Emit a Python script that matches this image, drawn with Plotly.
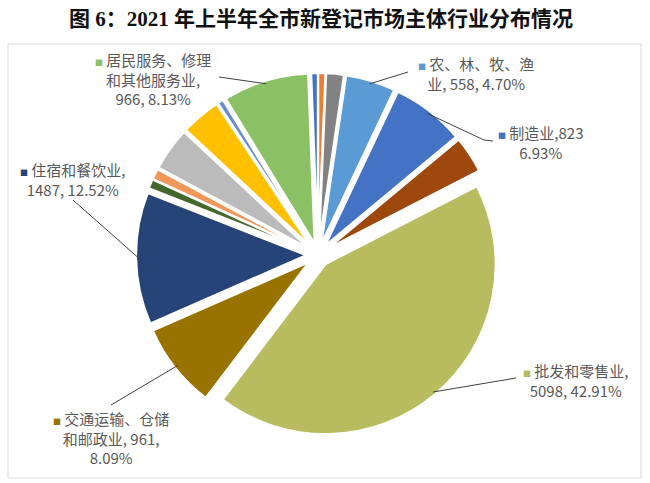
import math
import plotly.graph_objects as go

# ---------------- data ----------------
categories = [
    "教育", "卫生和社会工作", "文化、体育和娱乐业", "农、林、牧、渔业", "制造业", "建筑业",
    "批发和零售业", "交通运输、仓储和邮政业", "住宿和餐饮业", "信息传输、软件和信息技术服务业",
    "金融业", "租赁和商务服务业", "科学研究和技术服务业", "水利、环境和公共设施管理业",
    "居民服务、修理和其他服务业",
]
counts = [73, 79, 198, 558, 823, 413, 5098, 961, 1487, 106, 119, 488, 446, 66, 966]

# label templates for the slices that carry a data label
label_templates = {
    3: "农、林、牧、渔<br>业, {v}, {p}",
    4: "制造业,{v}<br>{p}",
    6: "批发和零售业,<br>{v}, {p}",
    7: "交通运输、仓储<br>和邮政业, {v},<br>{p}",
    8: "住宿和餐饮业,<br>{v}, {p}",
    14: "居民服务、修理<br>和其他服务业,<br>{v}, {p}",
}
title_text = "图 6：2021 年上半年全市新登记市场主体行业分布情况"

# ---------------- style / layout ----------------
colors = ["#4472C4", "#ED7D31", "#828282", "#5B9BD5", "#4472C4", "#9E480E",
          "#B8BB5E", "#997300", "#264478", "#43682B", "#F1975A", "#BBBBBB",
          "#FFC000", "#698ED0", "#8BC064"]
W, H = 650, 483
CX, CY, R = 318, 255, 170          # pie centre / radius in px
PULL = 0.07
ROT = -2.2
TEXT_COLOR = "#595959"
FONT = "Noto Sans CJK SC"

# label anchor (px) and leader polyline end points (px), layout only
label_pos = {3: (476, 73), 4: (541, 142), 6: (576, 380), 7: (111, 438), 8: (73, 179), 14: (153, 79)}
leader_pts = {
    3: [(408, 72)],
    4: [(484, 140), (493, 141)],
    6: [(516, 378)],
    7: [(111, 405)],
    8: [(73, 200)],
    14: [(219, 77)],
}

def px(x, y):
    return x / W, 1 - y / H

total = sum(counts)
half = R * (1 + PULL)
dom_x = [(CX - half) / W, (CX + half) / W]
dom_y = [1 - (CY + half) / H, 1 - (CY - half) / H]

fig = go.Figure(go.Pie(
    labels=categories, values=counts, sort=False, direction="clockwise",
    rotation=ROT, pull=[PULL] * len(counts), textinfo="none",
    marker=dict(colors=colors, line=dict(color="white", width=2)),
    domain=dict(x=dom_x, y=dom_y), showlegend=False,
    hovertemplate="%{label}: %{value} (%{percent})<extra></extra>",
))

annotations = []
shapes = []

# mid angles from data
cum = 0
mids = []
for v in counts:
    start = ROT + cum / total * 360
    mids.append(start + v / total * 180)
    cum += v

for i, tmpl in label_templates.items():
    v = counts[i]
    p = f"{v / total * 100:.2f}%"
    txt = tmpl.format(v=v, p=p)
    bullet = f'<span style="color:{colors[i]};font-size:8px">■</span> '
    lx, ly = label_pos[i]
    ax, ay = px(lx, ly)
    annotations.append(dict(
        x=ax, y=ay, xref="paper", yref="paper", text=bullet + txt, showarrow=False,
        xanchor="center", yanchor="middle", align="center",
        font=dict(family=FONT, size=15, color=TEXT_COLOR),
    ))
    a = math.radians(mids[i])
    rr = R * (1 + PULL) - 3
    sx, sy = CX + rr * math.sin(a), CY - rr * math.cos(a)
    pts = [(sx, sy)] + leader_pts[i]
    for (x0, y0), (x1, y1) in zip(pts[:-1], pts[1:]):
        p0, p1 = px(x0, y0), px(x1, y1)
        shapes.append(dict(type="line", xref="paper", yref="paper",
                           x0=p0[0], y0=p0[1], x1=p1[0], y1=p1[1],
                           line=dict(color="#404040", width=1)))

# frame
f0, f1 = px(8, 478), px(641, 44)
shapes.append(dict(type="rect", xref="paper", yref="paper", x0=f0[0], y0=f0[1],
                   x1=f1[0], y1=f1[1], line=dict(color="#D9D9D9", width=1), layer="below"))

tx, ty = px(321, 19)
annotations.append(dict(
    x=tx, y=ty, xref="paper", yref="paper", text=f"<b>{title_text}</b>", showarrow=False,
    xanchor="center", yanchor="middle",
    font=dict(family="Liberation Serif, Noto Sans CJK SC", size=21, color="#111111"),
))

fig.update_layout(
    width=W, height=H, margin=dict(l=0, r=0, t=0, b=0, pad=0),
    paper_bgcolor="white", plot_bgcolor="white",
    annotations=annotations, shapes=shapes,
)
fig.write_html("out.html")
